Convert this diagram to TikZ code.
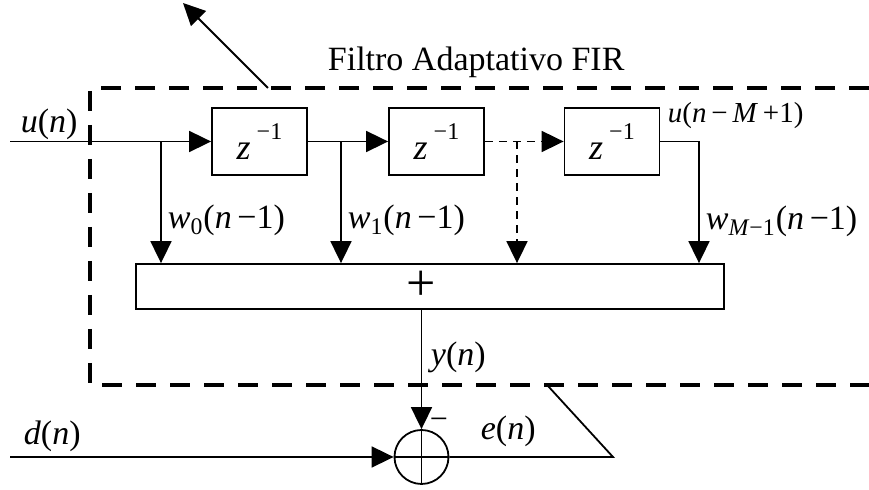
\documentclass[tikz,border=0pt]{standalone}
\usepackage{fontspec}
\setmainfont{Liberation Serif}
\usetikzlibrary{arrows.meta, positioning}
\newcommand{\vr}[1]{\textit{#1}}
\newcommand{\zinv}{\vr{z}\,\raisebox{0.55em}{\fontsize{12}{12}\selectfont −1}}

\begin{document}
\begin{tikzpicture}[x=0.5pt, y=-0.5pt, line width=0.9pt,
  >={Triangle[length=11pt, width=10.5pt]},
  delay/.style={draw, minimum width=47.5pt, minimum height=33.5pt, inner sep=0pt,
                font=\fontsize{18}{18}\selectfont},
  lbl/.style={anchor=base west, inner sep=0pt, font=\fontsize{17}{19}\selectfont},
  frame/.style={line width=2pt, dash pattern=on 10pt off 7pt},
  thin dash/.style={dash pattern=on 4pt off 3pt}
]
\useasboundingbox (0,0) rectangle (869,490);

% ---- filter frame -------------------------------------------------------
\draw[frame] (869,88) -- (90,88) -- (90,385) -- (869,385);
\node[lbl, font=\fontsize{17}{20}\selectfont] (title) at (327,71) {Filtro Adaptativo FIR};
\coordinate (abase) at (268,88);
\coordinate (atip) at (183,3);
\draw[->] (abase) -- (atip);

% ---- delay line ---------------------------------------------------------
\node[delay] (z1) at (259.5,141.5) {\zinv};
\node[delay] (z2) at (436.5,141.5) {\zinv};
\node[delay] (z3) at (612,141.5) {\zinv};
\node[draw, minimum width=294pt, minimum height=22.5pt, inner sep=0pt] (acc) at (430,286.5) {};
\node[font=\fontsize{26}{26}\selectfont, inner sep=0pt] (plus) at (421.5,286) {+};

\coordinate (uin) at (10,141.5);
\coordinate (t0) at (161,141.5);
\coordinate (t1) at (341,141.5);
\coordinate (t2) at (517,141.5);
\coordinate (t3) at (699,141.5);

\draw[->] (uin) -- (z1.west);
\draw[->] (z1.east) -- (z2.west);
\draw[->, thin dash] (z2.east) -- (z3.west);
\draw (z3.east) -- (t3);
\foreach \t in {t0, t1, t3}
  \draw[->] (\t) -- (\t |- acc.north);
\draw[->, thin dash] (t2) -- (t2 |- acc.north);

% ---- labels -------------------------------------------------------------
\node[lbl] (lu) at (20,133) {\vr{u}(\vr{n})};
\node[lbl] (lw0) at (167,229) {\vr{w}\textsubscript{0}(\vr{n}\,−1)};
\node[lbl] (lw1) at (347,229) {\vr{w}\textsubscript{1}(\vr{n}\,−1)};
\node[lbl] (lwm) at (705,230) {\vr{w}\textsubscript{\vr{M}−1}(\vr{n}\,−1)};
\node[lbl, font=\fontsize{14.5}{16}\selectfont] (luM) at (667,123) {\vr{u}(\vr{n}\,−\,\vr{M}\,+1)};

% ---- error --------------------------------------------------------------
\node[draw, circle, minimum size=27pt, inner sep=0pt] (err) at (421.5,457) {};
\draw (err.north) -- (err.south) (err.west) -- (err.east);
\draw[->] (plus |- acc.south) -- (err.north);
\node[font=\fontsize{16}{16}\selectfont, inner sep=0pt] (neg) at (439,424) {−};

\coordinate (din) at (10,457);
\draw[->] (din) -- (err.west);
\coordinate (ebend) at (613,457);
\coordinate (etip) at (548,386);
\draw (err.east) -- (ebend) -- (etip);

\node[lbl] (ly) at (430,366) {\vr{y}(\vr{n})};
\node[lbl] (ld) at (23,445) {\vr{d}(\vr{n})};
\node[lbl] (le) at (480,440) {\vr{e}(\vr{n})};
\end{tikzpicture}
\end{document}
